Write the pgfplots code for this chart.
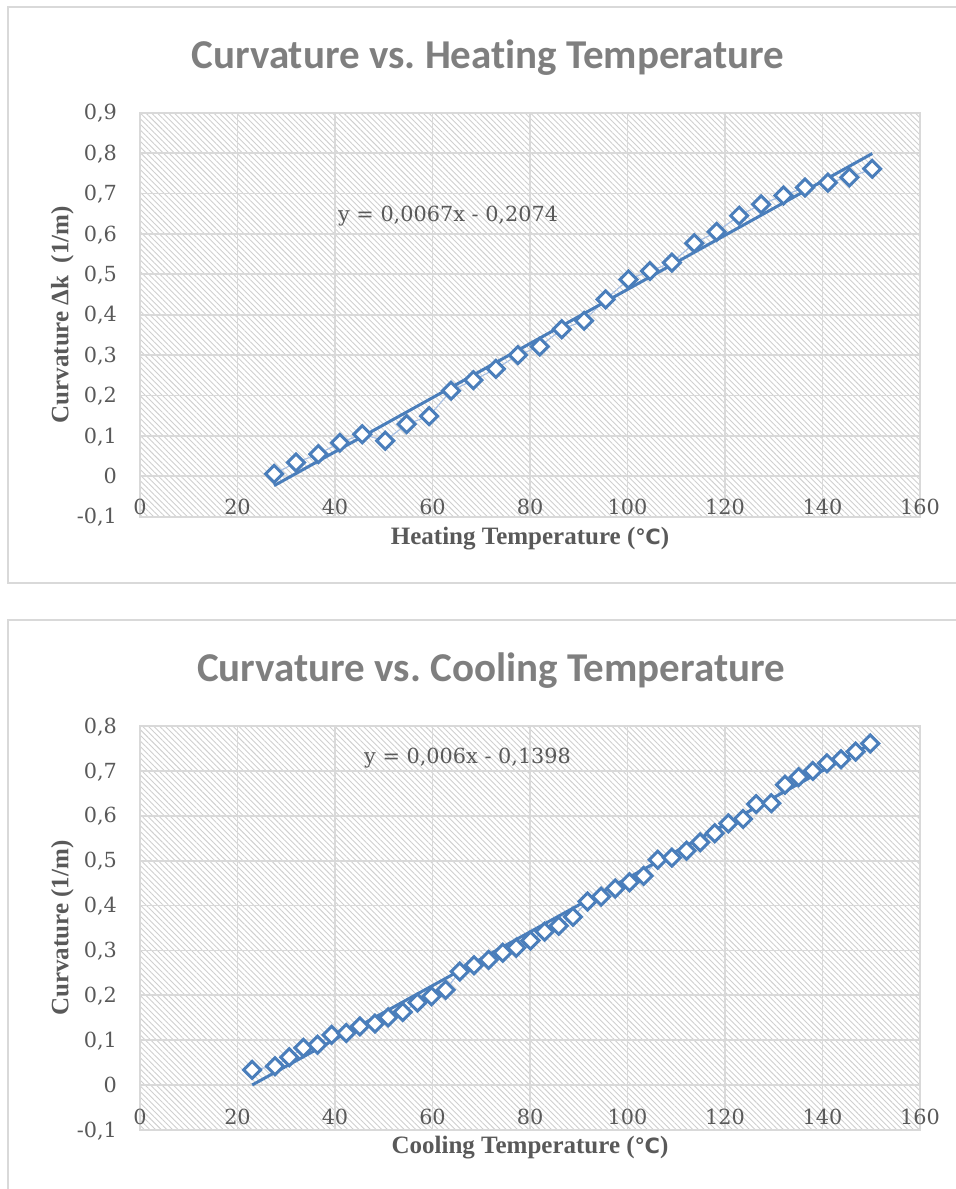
\documentclass[border=0pt]{standalone}
\usepackage{fontspec}
\setmainfont{DejaVu Serif}
\newfontfamily\titlefont[Ligatures=NoCommon]{Carlito}
\newfontfamily\labfont{Liberation Serif}
\newfontfamily\degfont{DejaVu Sans}
\usepackage{pgfplots}
\pgfplotsset{compat=1.18}
\usetikzlibrary{patterns.meta}
\frenchspacing

\definecolor{serblue}{HTML}{4A7EBB}
\definecolor{serlight}{HTML}{A9C0E2}
\definecolor{gridc}{HTML}{D9D9D9}
\definecolor{hatch}{HTML}{CFCFCF}
\definecolor{txt}{HTML}{595959}
\definecolor{ttl}{HTML}{7F7F7F}

\pgfplotstableread{
x y
27.5 0.006
32.0 0.034
36.6 0.055
41.0 0.083
45.6 0.104
50.3 0.088
54.7 0.129
59.3 0.149
63.8 0.212
68.4 0.238
73.0 0.266
77.5 0.300
82.0 0.321
86.5 0.364
91.1 0.385
95.5 0.438
100.2 0.487
104.6 0.508
109.1 0.529
113.7 0.577
118.3 0.605
122.9 0.645
127.4 0.673
132.0 0.695
136.4 0.715
141.1 0.727
145.5 0.740
150.2 0.761
}\heating

\pgfplotstableread{
x y
23.0 0.034
27.7 0.042
30.6 0.062
33.5 0.083
36.4 0.090
39.3 0.112
42.3 0.116
45.1 0.131
48.2 0.137
50.9 0.151
53.9 0.163
56.9 0.184
59.8 0.198
62.7 0.212
65.6 0.253
68.5 0.267
71.5 0.279
74.4 0.295
77.2 0.306
80.1 0.322
83.0 0.342
85.9 0.355
88.8 0.375
91.8 0.409
94.6 0.420
97.5 0.438
100.4 0.452
103.3 0.466
106.2 0.502
109.1 0.507
112.1 0.522
114.9 0.541
117.9 0.561
120.7 0.583
123.7 0.593
126.4 0.626
129.5 0.628
132.3 0.669
135.1 0.686
138.0 0.700
140.9 0.717
143.8 0.726
146.8 0.743
149.8 0.761
}\cooling

\pgfplotsset{
  mystyle/.style={
    scale only axis, width=390pt, height=202pt,
    xmin=0, xmax=160, xtick={0,20,40,60,80,100,120,140,160},
    grid=major,
    major grid style={gridc, line width=0.85pt},
    axis line style={gridc, line width=0.85pt},
    major tick length=0pt,
    axis background/.style={pattern={Lines[angle=-45,distance=2pt,line width=0.45pt]}, pattern color=hatch},
    ticklabel style={font=\fontsize{10.4}{12}\selectfont, text=txt},
    yticklabel style={anchor=mid east, inner sep=0pt, xshift=-11.35pt, yshift=-1pt},
    /pgf/number format/use comma,
    /pgf/number format/fixed,
    /pgf/number format/precision=1,
    /pgf/number format/assume math mode=true,
    xlabel style={font=\labfont\bfseries\fontsize{12.5}{14}\selectfont, text=txt, anchor=base},
    ylabel style={font=\labfont\bfseries\fontsize{12.5}{14}\selectfont, text=txt, anchor=base, rotate=0},
  },
  serstyle/.style={color=serlight, line width=0.6pt, mark=square*, mark size=3.0pt,
    mark options={draw=serblue, fill=white, line width=1.5pt, rotate=45}},
  trend/.style={color=serblue, line width=1.5pt, no marks},
}
\newcommand\degC{{\degfont\bfseries\fontsize{10.5}{12}\selectfont ℃}}

\begin{document}
\begin{tikzpicture}
\useasboundingbox (0,0) rectangle (478pt,594.5pt);
\draw[gridc, line width=0.6pt] (4pt,591pt) rectangle (487.5pt,303pt);
\draw[gridc, line width=0.6pt] (4pt,284.5pt) rectangle (487.5pt,-8pt);

\node[font=\titlefont\bfseries\fontsize{20.5}{24}\selectfont, text=ttl, anchor=base] at (244pt,560.3pt) {Curvature vs. Heating Temperature};
\node[font=\titlefont\bfseries\fontsize{20.5}{24}\selectfont, text=ttl, anchor=base] at (245.5pt,253.75pt) {Curvature vs. Cooling Temperature};

\begin{axis}[mystyle, at={(70pt,336.15pt)}, anchor=south west,
  ymin=-0.1, ymax=0.9, ytick={-0.1,0,0.1,0.2,0.3,0.4,0.5,0.6,0.7,0.8,0.9},
  xticklabel style={anchor=base, yshift=0.85pt},
  xlabel={Heating Temperature (\degC)},
  ylabel={Curvature Δk\ \ (1/m)},
  xlabel style={at={(axis description cs:0.5,-0.0676)}},
  ylabel style={at={(axis description cs:-0.0919,0.5)}},
]
\addplot[serstyle] table[x=x,y=y] {\heating};
\addplot[trend] coordinates {(27.5,-0.0232) (150.2,0.7989)};
\node[font=\fontsize{10.4}{12}\selectfont, text=txt] at (axis cs:63.2,0.644) {y = 0,0067x - 0,2074};
\end{axis}

\begin{axis}[mystyle, at={(70pt,29.5pt)}, anchor=south west,
  ymin=-0.1, ymax=0.8, ytick={-0.1,0,0.1,0.2,0.3,0.4,0.5,0.6,0.7,0.8},
  xticklabel style={anchor=base, yshift=2.5pt},
  xlabel={Cooling Temperature (\degC)},
  ylabel={Curvature (1/m)},
  xlabel style={at={(axis description cs:0.5,-0.0594)}},
  ylabel style={at={(axis description cs:-0.0919,0.5)}},
]
\addplot[serstyle] table[x=x,y=y] {\cooling};
\addplot[trend] coordinates {(23.0,0.0002) (149.8,0.7590)};
\node[font=\fontsize{10.4}{12}\selectfont, text=txt] at (axis cs:67.2,0.729) {y = 0,006x - 0,1398};
\end{axis}
\end{tikzpicture}
\end{document}
